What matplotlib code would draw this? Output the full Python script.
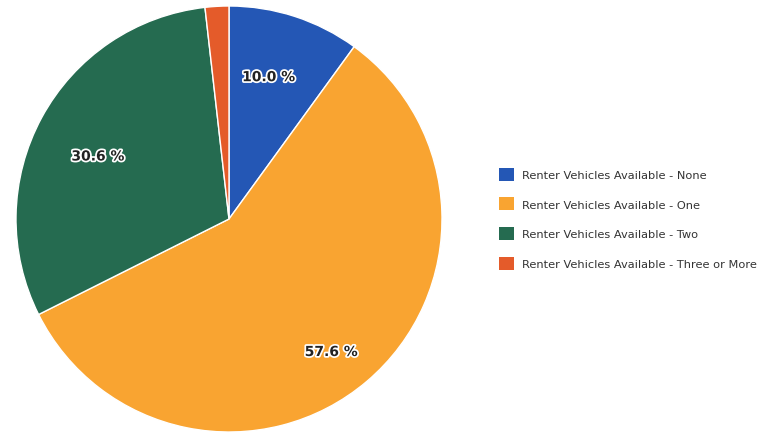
import matplotlib.pyplot as plt
import matplotlib.patheffects as pe
from matplotlib.patches import Patch

labels = ['Renter Vehicles Available - None',
          'Renter Vehicles Available - One',
          'Renter Vehicles Available - Two',
          'Renter Vehicles Available - Three or More']
shares = [10.0, 57.6, 30.6, 1.8]
colors = ['#2457B5', '#F9A431', '#256B50', '#E45B2A']

fig = plt.figure(figsize=(7.68, 4.35), dpi=100)
ax = fig.add_axes([16 / 768, 2 / 435, 426 / 768, 426 / 435])

wedges, texts, autotexts = ax.pie(
    shares, colors=colors, startangle=90, counterclock=False,
    autopct=lambda p: f'{p:.1f} %' if p > 5 else '', pctdistance=0.7,
    wedgeprops=dict(edgecolor='white', linewidth=1.0),
    textprops=dict(fontsize=10, fontweight='bold', color='#222222'))
for t in autotexts:
    t.set_path_effects([pe.withStroke(linewidth=2.5, foreground='white')])
# nudge labels to where the original puts them
x, y = autotexts[0].get_position()
autotexts[0].set_position((x - 0.03, y))
x, y = autotexts[1].get_position()
autotexts[1].set_position((x * 1.06, y * 1.17))
x, y = autotexts[2].get_position()
autotexts[2].set_position((x, y - 0.04))
ax.set_aspect('equal')
ax.set_xlim(-1, 1)
ax.set_ylim(-1, 1)

handles = [Patch(facecolor=c, edgecolor='none') for c in colors]
fig.legend(handles, labels, loc='center left', bbox_to_anchor=(0.637, 0.495),
           frameon=False, fontsize=8.2, handlelength=1.25, handleheight=1.4,
           labelspacing=1.45, handletextpad=0.75, labelcolor='#333333')

fig.savefig('out.png', dpi=100)
